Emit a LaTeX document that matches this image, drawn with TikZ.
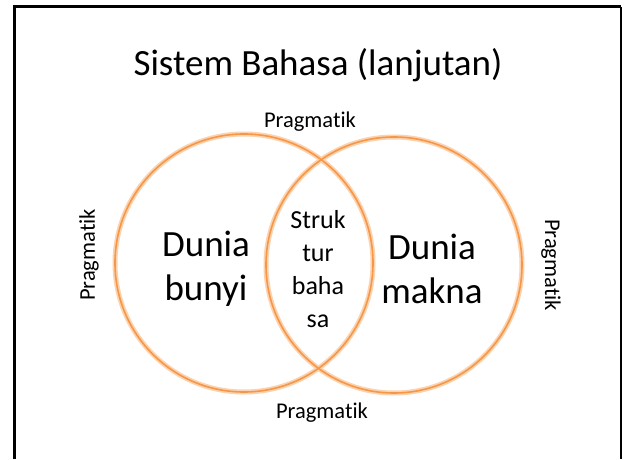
\documentclass[tikz,border=0pt]{standalone}
\usepackage{fontspec}
\setmainfont[Ligatures=NoCommon,Contextuals=NoAlternate]{Carlito}
\newcommand\pragword{Pragmat\kern0pt ik}
\definecolor{ring}{HTML}{F79646}
\definecolor{ringglow}{HTML}{FBD3B0}
\begin{document}
\begin{tikzpicture}[x=1pt,y=1pt,
  circ/.style={draw=ring, line width=1.6pt},
  glow/.style={draw=ringglow, line width=5pt},
  lbl/.style={inner sep=0pt, font=\fontsize{22.5}{26}\selectfont},
  big/.style={inner sep=0pt, align=center, font=\fontsize{37}{44}\selectfont},
  mid/.style={inner sep=0pt, align=center, font=\fontsize{26}{33}\selectfont}]
\useasboundingbox (0,0) rectangle (624,459);
% frame
\draw[line width=3pt] (14,0) -- (14,452) -- (621,452);
\draw[line width=1.6pt] (621,452) -- (621,0);
% circles
\coordinate (cl) at (244,196);
\coordinate (cr) at (394,194);
\draw[glow] (cl) circle (129);
\draw[glow] (cr) circle (128);
\draw[circ] (cl) circle (129);
\draw[circ] (cr) circle (128);
% texts
\node[anchor=base, inner sep=0pt, font=\fontsize{37}{44}\selectfont] (title) at (318,384) {Sistem Bahasa (lanjutan)};
\node[big] (bunyi) at (206,190) {Dunia\\bunyi};
\node[big] (makna) at (432,190) {Dunia\\makna};
\node[mid] (struk) at (318,190) {Struk\\tur\\baha\\sa};
\node[lbl, anchor=base] (ptop) at (310,332) {\pragword};
\node[lbl] (pbot) at (322,46) {\pragword};
\node[lbl, rotate=90] (pleft) at (89,204) {\pragword};
\node[lbl, rotate=-90] (pright) at (551,194) {\pragword};
\end{tikzpicture}
\end{document}
